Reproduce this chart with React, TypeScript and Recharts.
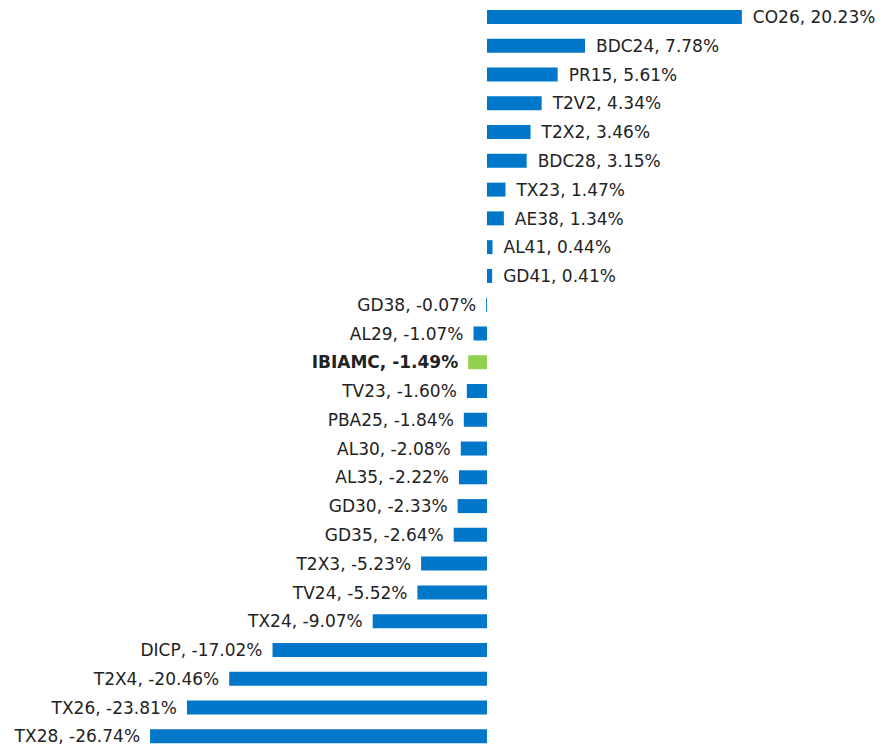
import React from 'react';
import { Bar, BarChart, Cell, LabelList, XAxis, YAxis } from 'recharts';

const tickers = [
    'CO26', 'BDC24', 'PR15', 'T2V2', 'T2X2', 'BDC28', 'TX23', 'AE38', 'AL41', 'GD41',
    'GD38', 'AL29', 'IBIAMC', 'TV23', 'PBA25', 'AL30', 'AL35', 'GD30', 'GD35', 'T2X3',
    'TV24', 'TX24', 'DICP', 'T2X4', 'TX26', 'TX28',
];
const returns = [
    20.23, 7.78, 5.61, 4.34, 3.46, 3.15, 1.47, 1.34, 0.44, 0.41,
    -0.07, -1.07, -1.49, -1.6, -1.84, -2.08, -2.22, -2.33, -2.64, -5.23,
    -5.52, -9.07, -17.02, -20.46, -23.81, -26.74,
];
const highlight = 'IBIAMC';

const data = tickers.map((name, i) => ({ name, value: returns[i] }));

const BLUE = '#0077C8';
const GREEN = '#92D050';

const renderLabel = (props: any) => {
    const { x, y, width, height, index } = props;
    const d = data[index];
    const left = Math.min(x, x + width);
    const right = Math.max(x, x + width);
    const cy = y + height / 2;
    const text = `${d.name}, ${d.value.toFixed(2)}%`;
    const pos = d.value >= 0;
    return (
        <text
            x={pos ? right + 11 : left - 10}
            y={cy}
            dy="0.36em"
            textAnchor={pos ? 'start' : 'end'}
            fontSize={17}
            fontFamily="DejaVu Sans"
            fontWeight={d.name === highlight ? 'bold' : 'normal'}
            fill="#222"
        >
            {text}
        </text>
    );
};

export default function App(): JSX.Element {
    return (
        <div style={{ position: 'absolute', top: 0, left: 0, width: 885, height: 744, overflow: 'hidden', background: '#fff' }}>
            <BarChart
                width={885}
                height={751}
                data={data}
                layout="vertical"
                margin={{ top: 3, right: 0, bottom: 0, left: 0 }}
            >
                <XAxis type="number" domain={[-38.65, 31.59]} hide allowDataOverflow />
                <YAxis type="category" dataKey="name" hide />
                <Bar dataKey="value" barSize={14} isAnimationActive={false}>
                    {data.map((d) => (
                        <Cell key={d.name} fill={d.name === highlight ? GREEN : BLUE} />
                    ))}
                    <LabelList dataKey="value" content={renderLabel} />
                </Bar>
            </BarChart>
        </div>
    );
}
